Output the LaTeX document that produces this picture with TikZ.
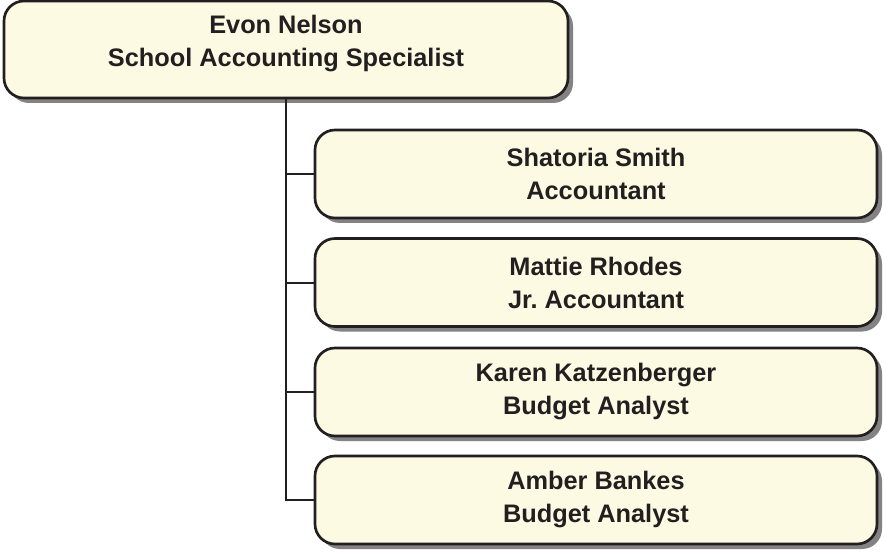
\documentclass[tikz,border=0pt]{standalone}
\usepackage{fontspec}
\setmainfont{Liberation Sans}
\usetikzlibrary{shadows}
\definecolor{boxfill}{HTML}{FCFAE2}
\definecolor{boxline}{HTML}{231F20}
\definecolor{boxshadow}{HTML}{838383}
\frenchspacing
\begin{document}
\begin{tikzpicture}[x=0.75pt,y=-0.75pt,
  person/.style={draw=boxline,line width=2pt,fill=boxfill,rounded corners=15pt,
    text=boxline,align=center,inner sep=0pt,
    font=\fontsize{19}{24.75}\selectfont\bfseries,
    general shadow={fill=boxshadow,shadow xshift=3.75pt,shadow yshift=-3.75pt}},
  link/.style={draw=boxline,line width=1.5pt}]
\useasboundingbox (0,0) rectangle (884,552);
% draw head box
\node[person,minimum width=423pt,minimum height=72.75pt] (evon) at (286,49.5)
  {Evon Nelson\\School Accounting Specialist\rule[-13pt]{0pt}{0pt}};
% draw staff boxes
\node[person,minimum width=421.5pt,minimum height=66pt] (shatoria) at (596,174)
  {Shatoria Smith\\Accountant};
\node[person,minimum width=421.5pt,minimum height=66pt] (mattie) at (596,282.5)
  {Mattie Rhodes\\Jr.\ Accountant};
\node[person,minimum width=421.5pt,minimum height=66pt] (karen) at (596,392)
  {Karen Katzenberger\\Budget Analyst};
\node[person,minimum width=421.5pt,minimum height=66pt] (amber) at (596,500)
  {Amber Bankes\\Budget Analyst};
% draw connectors
\draw[link] (evon.south) |- (shatoria.west);
\draw[link] (evon.south) |- (mattie.west);
\draw[link] (evon.south) |- (karen.west);
\draw[link] (evon.south) |- (amber.west);
\end{tikzpicture}
\end{document}
